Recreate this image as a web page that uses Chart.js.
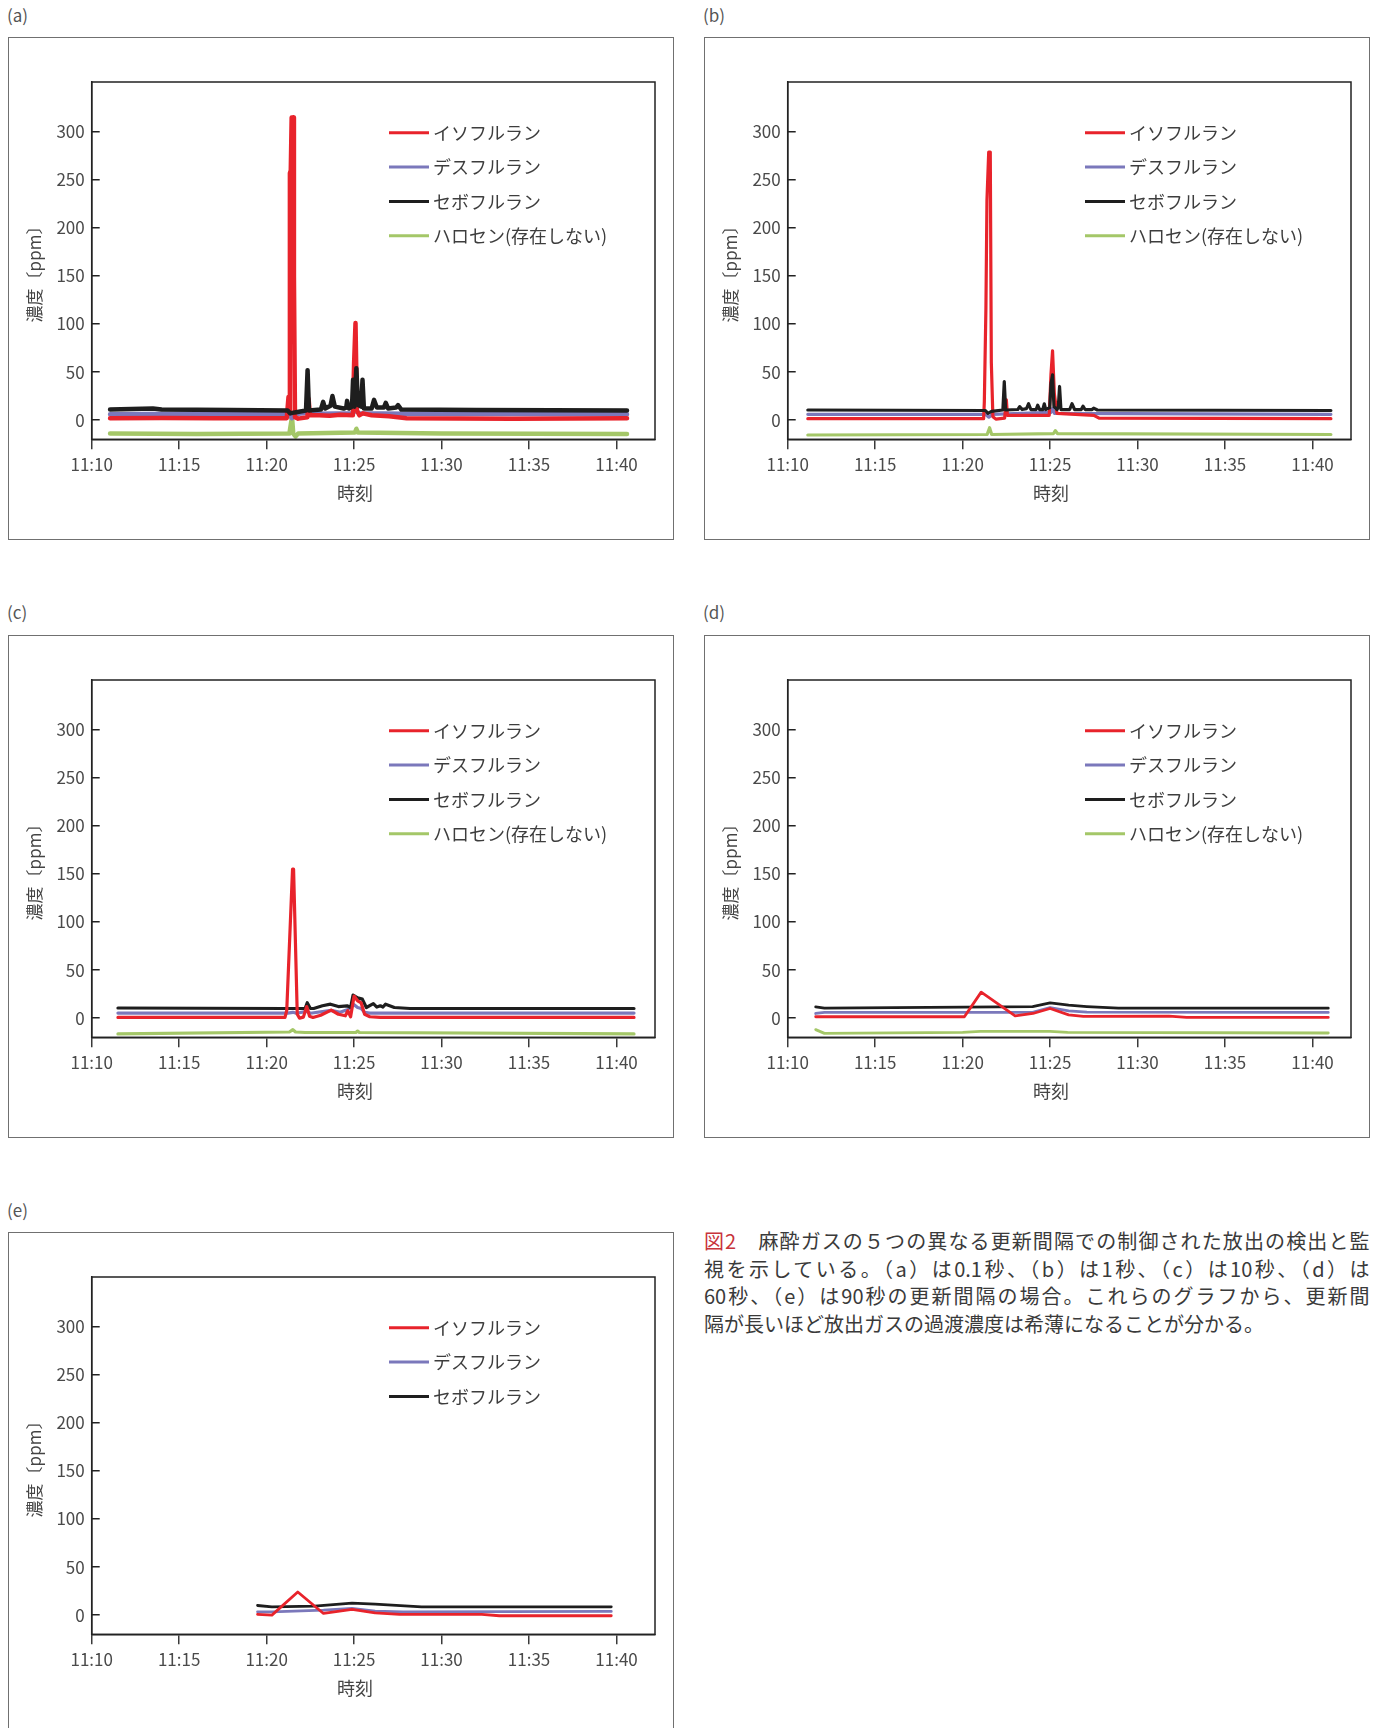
<!DOCTYPE html>
<html lang="ja">
<head>
<meta charset="utf-8">
<title>図2 麻酔ガス</title>
<script src="https://cdn.jsdelivr.net/npm/chart.js@4.4.1/dist/chart.umd.min.js"></script>
<style>
  html, body { margin:0; padding:0; background:#fff; }
  body { position:relative; width:1375px; height:1728px; overflow:hidden;
         font-family:"Noto Sans CJK JP","Noto Sans",sans-serif; color:#444; }
  .plabel { position:absolute; font-size:17px; line-height:22px; color:#555; }
  .box { position:absolute; width:666px; height:503px; }
  .box canvas { position:absolute; left:0; top:0; }
  .frame { position:absolute; left:0; top:0; width:666px; height:503px; box-sizing:border-box;
           border:1.5px solid #707070; pointer-events:none; }
  .caption { position:absolute; left:704px; top:1226.6px; width:665.5px; font-size:20px;
             line-height:27.9px; color:#3a3a3a; }
  .caption .ln { display:block; text-align:justify; text-align-last:justify; }
  .caption .ln.last { text-align:left; text-align-last:left; }
  .caption .fig { color:#c8333b; }
</style>
</head>
<body>
<div class="plabel" style="left:7px;top:4px">(a)</div>
<div class="plabel" style="left:703px;top:4px">(b)</div>
<div class="plabel" style="left:7px;top:601px">(c)</div>
<div class="plabel" style="left:703px;top:601px">(d)</div>
<div class="plabel" style="left:7px;top:1198.5px">(e)</div>

<div class="box" style="left:8px;top:37px"><canvas id="c-a" width="666" height="503"></canvas><div class="frame"></div></div>
<div class="box" style="left:704px;top:37px"><canvas id="c-b" width="666" height="503"></canvas><div class="frame"></div></div>
<div class="box" style="left:8px;top:634.5px"><canvas id="c-c" width="666" height="503"></canvas><div class="frame"></div></div>
<div class="box" style="left:704px;top:634.5px"><canvas id="c-d" width="666" height="503"></canvas><div class="frame"></div></div>
<div class="box" style="left:8px;top:1232px"><canvas id="c-e" width="666" height="503"></canvas><div class="frame"></div></div>

<div class="caption">
  <span class="ln"><span class="fig">図2</span>　麻酔ガスの５つの異なる更新間隔での制御された放出の検出と監</span>
  <span class="ln">視を示している。（a）は0.1秒、（b）は1秒、（c）は10秒、（d）は</span>
  <span class="ln">60秒、（e）は90秒の更新間隔の場合。これらのグラフから、更新間</span>
  <span class="ln last">隔が長いほど放出ガスの過渡濃度は希薄になることが分かる。</span>
</div>

<script>
// ================= DATA =================
// x values: minutes after 11:00 (e.g. 21.5 = 11:21:30), y values: ppm
const X_TICK_VALUES = [10, 15, 20, 25, 30, 35, 40];
const X_TICK_LABELS = ['11:10', '11:15', '11:20', '11:25', '11:30', '11:35', '11:40'];
const Y_TICK_VALUES = [0, 50, 100, 150, 200, 250, 300];
const SERIES_KEYS = ['iso', 'des', 'sev', 'hal'];
const SERIES_NAMES = ['イソフルラン', 'デスフルラン', 'セボフルラン', 'ハロセン(存在しない)'];
const AXIS_X_TITLE = '時刻';
const AXIS_Y_TITLE = '濃度〔ppm〕';

// (a) 0.1 s
const A_ISO = [[11.05,2],[14,2.3],[17,1.8],[21.15,2],[21.25,24],[21.29,8],[21.33,257],[21.38,260],[21.43,315],[21.52,315],[21.56,150],[21.62,3],[21.8,1.5],[22.33,3],[22.4,22],[22.47,5],[23,5],[23.6,4.5],[24.2,5.5],[24.93,5],[25.0,59],[25.08,101],[25.16,10],[25.3,5],[25.5,7],[26,5],[27,4],[28,2],[34,1.5],[40.6,2]];
const A_DES = [[11.05,6],[16,6.5],[21.25,6],[21.45,2],[21.6,6],[22.4,8],[23,6.5],[24.9,7],[25.1,10],[25.3,7],[28,6.5],[40.6,6]];
const A_SEV = [[11.05,11],[13.5,12],[14,11],[18,10.5],[21.2,10],[21.35,7],[21.6,8],[22.25,10],[22.34,52],[22.42,10],[23.1,11],[23.23,19],[23.35,12],[23.65,15],[23.76,25],[23.9,14],[24.4,12],[24.55,13],[24.6,20],[24.7,12],[24.88,14],[24.94,42],[25.02,14],[25.13,54],[25.22,16],[25.4,14],[25.48,42],[25.56,12],[26.0,12],[26.14,21],[26.3,13],[26.7,13],[26.81,18],[26.95,12],[27.4,13],[27.51,15.6],[27.7,11],[32,10.5],[40.6,10]];
const A_HAL = [[11.05,-14],[16,-14.5],[21.3,-14],[21.45,3.5],[21.52,-14],[21.65,-17],[21.8,-14],[25.05,-13],[25.13,-9],[25.22,-13],[30,-14],[40.6,-14.5]];

// (b) 1 s
const B_ISO = [[11.15,1.5],[21.2,1.5],[21.24,19],[21.33,116],[21.39,229],[21.49,279],[21.58,279],[21.64,60],[21.73,3.5],[21.9,1],[22.4,2],[22.5,21],[22.56,5],[24.95,5],[25.05,48],[25.14,72],[25.24,28],[25.39,7],[27.5,5],[27.8,2],[41.05,1.5]];
const B_DES = [[11.15,6],[21.3,6],[21.5,3],[21.7,6],[25.05,8],[25.14,12],[25.25,7],[41.05,6]];
const B_SEV = [[11.15,10.5],[21.3,10],[21.45,7],[21.65,9],[22.3,10.5],[22.38,40],[22.46,10.5],[23.15,11],[23.26,14],[23.4,11],[23.65,12],[23.77,17],[23.9,11],[24.2,11],[24.29,15.5],[24.4,11],[24.58,11],[24.67,17],[24.75,11],[24.98,13],[25.05,38],[25.14,47],[25.22,14],[25.4,11],[25.47,14],[25.54,35],[25.62,11],[26.12,11],[26.25,17],[26.4,11],[26.78,11],[26.88,14.5],[27.0,11],[27.4,11],[27.49,12.5],[27.7,10.5],[41.05,10]];
const B_HAL = [[11.15,-15.5],[21.4,-15],[21.54,-8],[21.66,-15],[25.2,-14],[25.3,-11],[25.42,-14],[41.05,-15]];

// (c) 10 s
const C_ISO = [[11.5,0.7],[21.05,0.7],[21.15,8],[21.48,155],[21.54,155],[21.75,4],[21.88,0],[22.1,1],[22.29,12],[22.45,2],[22.65,0.7],[23.09,3],[23.69,8.3],[24.1,4],[24.5,2.4],[24.64,7.6],[24.8,1.4],[25.0,23],[25.2,18],[25.4,16],[25.6,4],[25.9,1.4],[26.5,0.7],[41.0,0.7]];
const C_DES = [[11.5,5.2],[21.2,5.2],[21.5,6],[21.7,5],[22.29,7],[22.5,5],[23.69,8],[24.2,6],[24.64,9],[25.0,14],[25.2,11],[25.4,10],[25.6,6],[25.9,5.2],[41.0,5.2]];
const C_SEV = [[11.5,10.5],[21.1,10],[22.2,10],[22.32,16],[22.5,10],[22.69,10],[23.19,12.8],[23.65,14.5],[24.1,12],[24.6,12.8],[24.8,11],[24.94,24],[25.2,21],[25.47,19.7],[25.7,11],[26.1,15],[26.3,11.5],[26.5,12.8],[26.65,11.5],[26.8,14.5],[27.3,11],[28.2,10],[41.0,10]];
const C_HAL = [[11.5,-16.5],[21.3,-14.5],[21.5,-12],[21.65,-14.5],[22.2,-15],[25.1,-15],[25.2,-13.5],[25.3,-15],[41.0,-16.5]];

// (d) 60 s
const D_ISO = [[11.6,1.4],[20.1,1.4],[21.06,27],[23.0,2.4],[24.02,4.8],[25.0,10],[26.06,3.4],[26.9,1.7],[31.8,2],[32.8,0.7],[40.9,0.7]];
const D_DES = [[11.6,4.8],[12.1,5.9],[24.0,5.9],[25.0,11],[26.06,7.6],[27.1,6.2],[40.9,5.9]];
const D_SEV = [[11.6,11.7],[12.1,10.3],[24.0,12],[25.0,15.9],[26.06,13.4],[27.1,12],[28.9,10.3],[40.9,10.3]];
const D_HAL = [[11.6,-12],[12.1,-15.9],[20,-14.8],[21,-13.8],[25,-13.8],[26,-14.8],[40.9,-15.5]];

// (e) 90 s (no halothane)
const E_ISO = [[19.48,0.7],[20.3,0],[21.78,24],[23.25,1.7],[24.88,5.9],[26.2,2.4],[27.6,0.7],[32.3,0.7],[33.3,-0.7],[39.7,-0.7]];
const E_DES = [[19.48,3.4],[20.3,3.4],[23.25,5.2],[24.88,6.9],[26.2,4.1],[27.8,3.4],[39.7,3.8]];
const E_SEV = [[19.48,10],[20.3,8.6],[22.74,9.3],[24.88,12.4],[26.2,11.4],[28.86,8.6],[39.7,8.6]];

// ================= STYLE =================
const COLORS = { iso:'#e8232b', des:'#7b78bb', sev:'#1e1e1e', hal:'#a4c768' };
const FONT = '"Noto Sans CJK JP", "Noto Sans", sans-serif';
Chart.defaults.font.family = FONT;
Chart.defaults.color = '#4a4a4a';

const decor = {
  id: 'decor',
  afterDraw(chart, args, o) {
    const { ctx, chartArea: a } = chart;
    ctx.save();
    ctx.strokeStyle = '#222';
    ctx.lineWidth = 1.5;
    ctx.strokeRect(a.left, a.top, a.right - a.left, a.bottom - a.top);
    ctx.fillStyle = '#444';
    ctx.textAlign = 'center';
    ctx.textBaseline = 'middle';
    // y title
    ctx.font = '17px ' + FONT;
    ctx.save();
    ctx.translate(26.5, 233);
    ctx.rotate(-Math.PI / 2);
    ctx.fillText(AXIS_Y_TITLE, 0, 0);
    ctx.restore();
    // x title
    ctx.font = '18px ' + FONT;
    ctx.fillText(AXIS_X_TITLE, 347, 456.5);
    // legend
    ctx.textAlign = 'left';
    chart.data.datasets.forEach((ds, i) => {
      const y = 95.8 + i * 34.3;
      ctx.strokeStyle = ds.borderColor;
      ctx.lineWidth = 3;
      ctx.beginPath();
      ctx.moveTo(381, y);
      ctx.lineTo(421, y);
      ctx.stroke();
      ctx.fillStyle = '#3d3d3d';
      ctx.font = '18px ' + FONT;
      ctx.fillText(ds.label, 425, y + 0.5);
    });
    ctx.restore();
  }
};

function makeChart(id, series, lw, topOrder) {
  const keys = SERIES_KEYS.filter(k => series[k]);
  const datasets = keys.map(k => ({
    label: SERIES_NAMES[SERIES_KEYS.indexOf(k)],
    data: series[k].map(([x, y]) => ({ x, y })),
    borderColor: COLORS[k],
    backgroundColor: COLORS[k],
    borderWidth: lw,
    borderJoinStyle: 'round',
    borderCapStyle: 'round',
    pointRadius: 0,
    tension: 0,
    fill: false,
    order: topOrder.indexOf(k)
  }));
  new Chart(document.getElementById(id), {
    type: 'line',
    data: { datasets },
    plugins: [decor],
    options: {
      responsive: false,
      animation: false,
      devicePixelRatio: 1,
      layout: { padding: { left: 0, top: 45, right: 19, bottom: 0 } },
      plugins: { legend: { display: false }, tooltip: { enabled: false } },
      scales: {
        x: {
          type: 'linear', min: 10, max: 42.2,
          afterBuildTicks: s => { s.ticks = X_TICK_VALUES.map(v => ({ value: v })); },
          afterFit: s => { s.height = 100.7; },
          grid: { display: true, drawOnChartArea: false, drawTicks: true, tickLength: 10, color: '#3a3a3a', lineWidth: 1.5 },
          border: { display: true, color: '#222', width: 1.5 },
          ticks: { padding: 5, color: '#4a4a4a', font: { size: 17 }, maxRotation: 0, autoSkip: false,
                   callback: v => X_TICK_LABELS[X_TICK_VALUES.indexOf(v)] ?? '' }
        },
        y: {
          type: 'linear', min: -20, max: 352,
          afterBuildTicks: s => { s.ticks = Y_TICK_VALUES.map(v => ({ value: v })); },
          afterFit: s => { s.width = 83.7; },
          grid: { display: true, drawOnChartArea: false, drawTicks: true, tickLength: -8, color: '#222', lineWidth: 1.5 },
          border: { display: true, color: '#222', width: 1.5 },
          ticks: { padding: 15, color: '#4a4a4a', font: { size: 17 }, autoSkip: false, callback: v => String(v) }
        }
      }
    }
  });
}

makeChart('c-a', { iso: A_ISO, des: A_DES, sev: A_SEV, hal: A_HAL }, 4.5, ['sev', 'iso', 'des', 'hal']);
makeChart('c-b', { iso: B_ISO, des: B_DES, sev: B_SEV, hal: B_HAL }, 3.2, ['sev', 'iso', 'des', 'hal']);
makeChart('c-c', { iso: C_ISO, des: C_DES, sev: C_SEV, hal: C_HAL }, 3.2, ['iso', 'sev', 'des', 'hal']);
makeChart('c-d', { iso: D_ISO, des: D_DES, sev: D_SEV, hal: D_HAL }, 2.8, ['iso', 'sev', 'des', 'hal']);
makeChart('c-e', { iso: E_ISO, des: E_DES, sev: E_SEV }, 2.8, ['iso', 'sev', 'des']);
</script>
</body>
</html>
